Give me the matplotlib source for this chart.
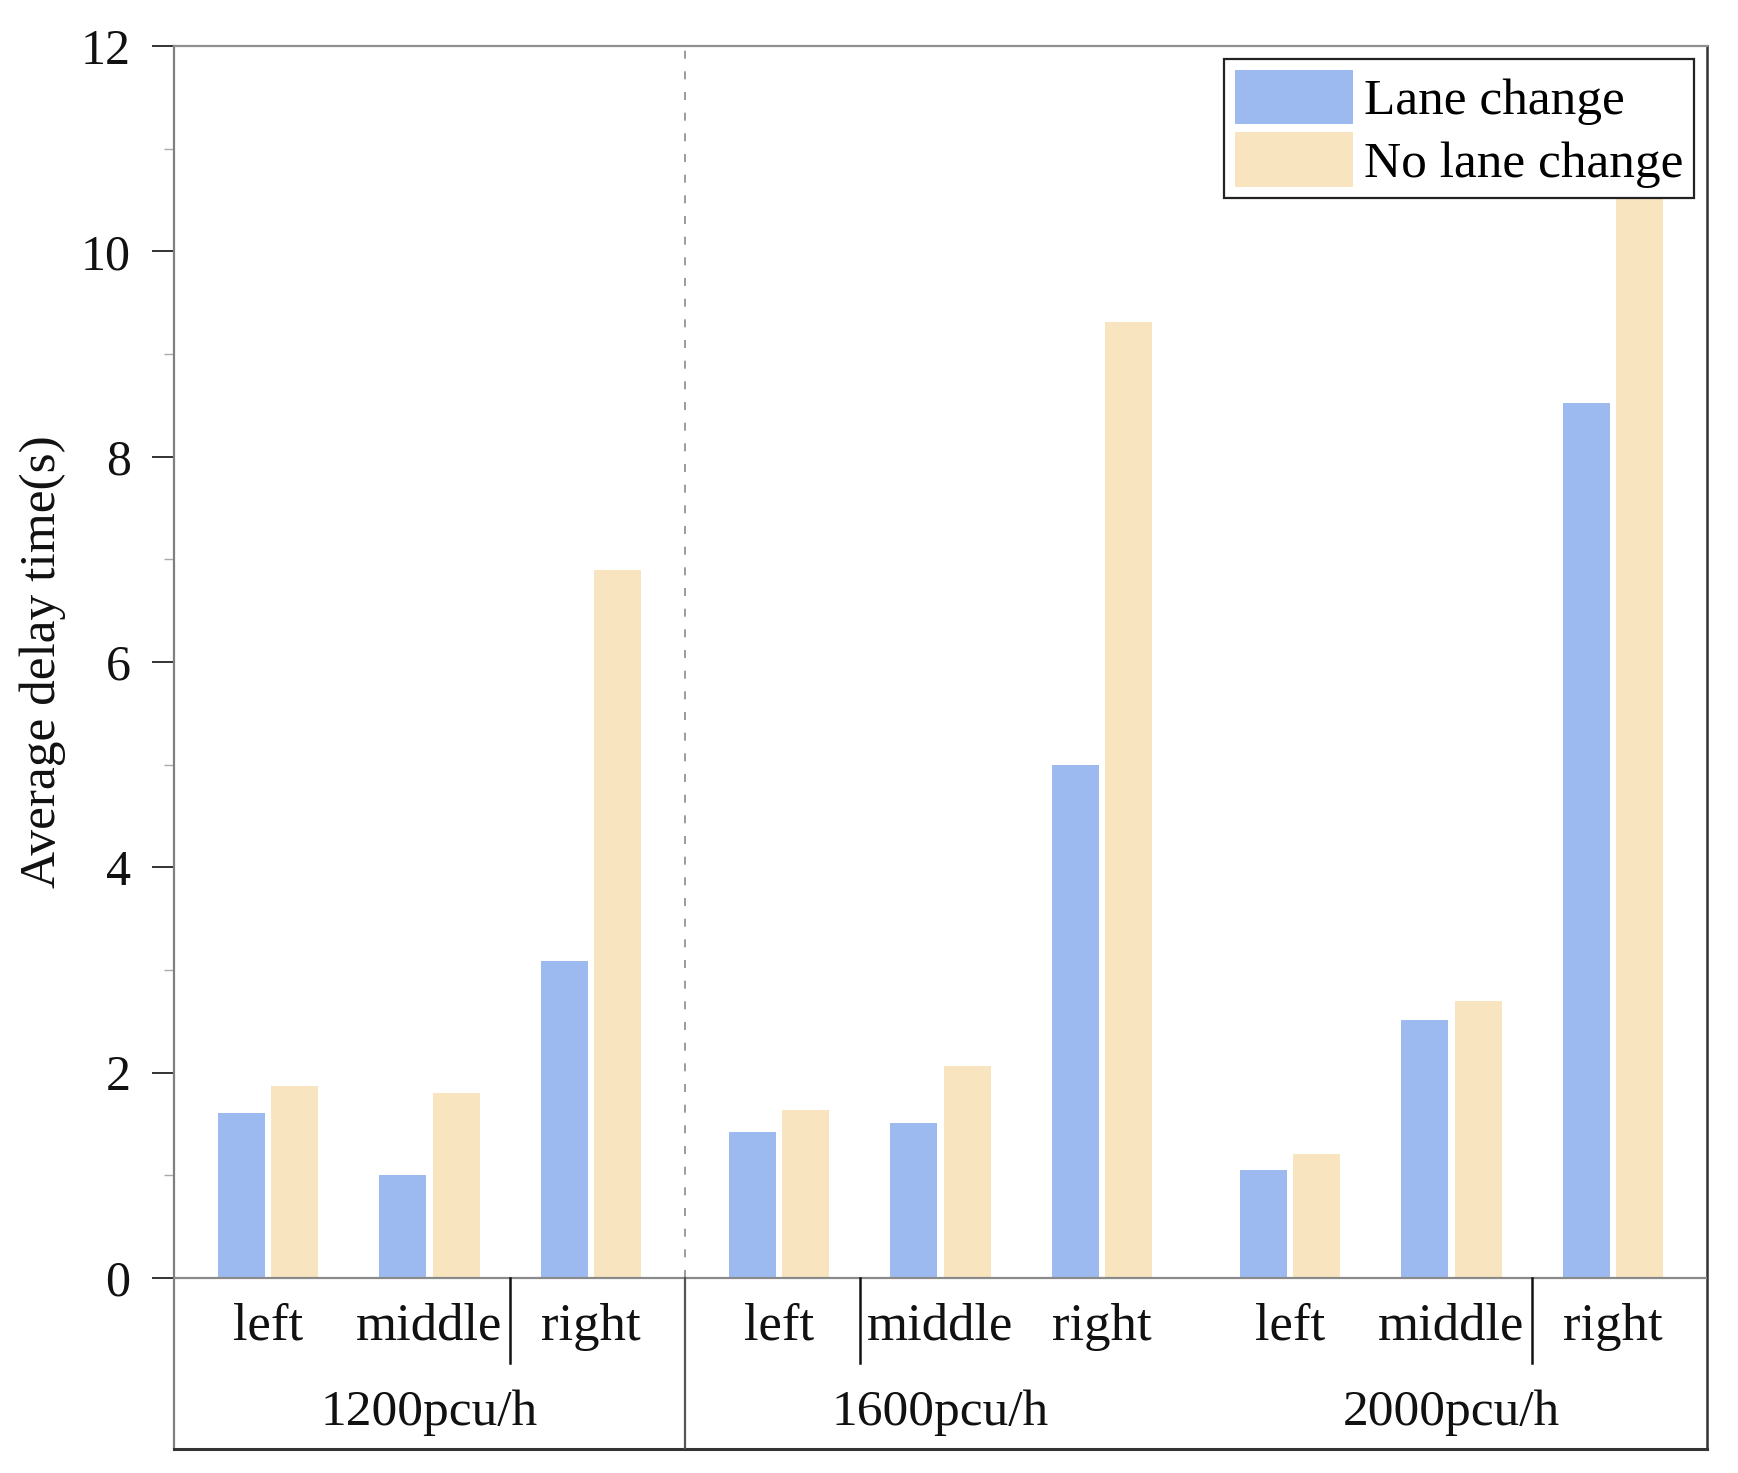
import matplotlib
matplotlib.use("Agg")
import matplotlib.pyplot as plt
from matplotlib.ticker import FixedLocator

# ---------------- data ----------------
groups = ["1200pcu/h", "1600pcu/h", "2000pcu/h"]
lanes = ["left", "middle", "right"]
series_names = ["Lane change", "No lane change"]
lane_change = [1.61, 1.00, 3.09, 1.42, 1.51, 5.00, 1.05, 2.51, 8.52]
no_lane_change = [1.87, 1.80, 6.90, 1.64, 2.06, 9.31, 1.21, 2.70, 10.60]
yticks = [0, 2, 4, 6, 8, 10, 12]
yminor = [1, 3, 5, 7, 9, 11]
ylabel = "Average delay time(s)"
# separators between lanes (group index, position after lane index)
short_separators = [(0, 1), (1, 0), (2, 1)]

# ---------------- style ----------------
plt.rcParams["font.family"] = ["Liberation Serif", "DejaVu Serif"]
blue = "#9DBAF0"
yellow = "#F9E4C0"

margin = 0.582
group_pitch = 2 + 2 * margin
bar_w = 0.29
off = 0.165
ymin = -1.666

fig = plt.figure(figsize=(17.38, 14.73), dpi=100)
ax = fig.add_axes([0.1001, 0.0163, 0.9822 - 0.1001, 0.9688 - 0.0163])

xs = [g * group_pitch + i for g in range(len(groups)) for i in range(len(lanes))]
ax.bar([x - off for x in xs], lane_change, width=bar_w, color=blue,
       label=series_names[0], zorder=2)
ax.bar([x + off for x in xs], no_lane_change, width=bar_w, color=yellow,
       label=series_names[1], zorder=2)

ax.set_xlim(-margin, (len(groups) - 1) * group_pitch + 2 + margin)
ax.set_ylim(ymin, 12)

# zero line
ax.axhline(0, color="#8a8a8a", lw=1.6, zorder=3)

# group separator: dashed above zero, solid below
xsep = group_pitch - margin
ax.plot([xsep, xsep], [0, 12], color="#8a8a8a", lw=1.2,
        linestyle=(0, (4.8, 7.6)), zorder=1)
ax.plot([xsep, xsep], [ymin, 0], color="#555555", lw=1.6, zorder=3)

for g, i in short_separators:
    xs_ = g * group_pitch + i + 0.5
    ax.plot([xs_, xs_], [ymin / 2, 0], color="#111111", lw=1.8, zorder=3)

# category labels
for idx, x in enumerate(xs):
    ax.text(x, -0.604, lanes[idx % 3], ha="center", va="baseline",
            fontsize=38, color="#111111")
for g, name in enumerate(groups):
    ax.text(g * group_pitch + 1, -1.432, name, ha="center", va="baseline",
            fontsize=37, color="#111111")

# axes styling
ax.set_xticks([])
ax.set_yticks(yticks)
ax.yaxis.set_minor_locator(FixedLocator(yminor))
ax.tick_params(axis="y", which="major", direction="out", length=15.8,
               width=1.4, color="#333333", pad=15.5, labelsize=36,
               labelcolor="#111111")
ax.tick_params(axis="y", which="minor", direction="out", length=7.5,
               width=1.0, color="#aaaaaa")

ax.spines["left"].set_color("#808080")
ax.spines["left"].set_linewidth(1.6)
ax.spines["top"].set_color("#909090")
ax.spines["top"].set_linewidth(1.6)
ax.spines["right"].set_color("#333333")
ax.spines["right"].set_linewidth(1.8)
ax.spines["bottom"].set_color("#333333")
ax.spines["bottom"].set_linewidth(2.2)

ax.text(-0.0855, 0.561, ylabel, transform=ax.transAxes, rotation=90,
        ha="center", va="center", fontsize=37, color="#111111")

leg = ax.legend(loc="upper right", fontsize=37, frameon=True, fancybox=False,
                edgecolor="#222222", framealpha=1, handlelength=2.3,
                handleheight=1.25, labelspacing=0.14, handletextpad=0.22,
                borderpad=0.2, borderaxespad=0.26)
leg.get_frame().set_linewidth(1.6)
leg.set_zorder(5)

fig.savefig("out.png", dpi=100)
